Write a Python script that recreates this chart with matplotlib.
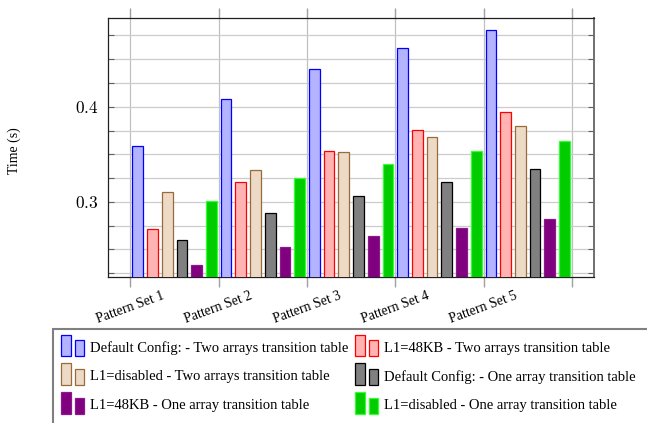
import numpy as np
import matplotlib.pyplot as plt
from matplotlib.patches import Rectangle
from matplotlib.ticker import MultipleLocator

plt.rcParams['font.family'] = ['Liberation Serif', 'DejaVu Serif']
plt.rcParams['mathtext.fontset'] = 'cm'

groups = ['Pattern Set 1', 'Pattern Set 2', 'Pattern Set 3', 'Pattern Set 4', 'Pattern Set 5']

labels = ['Default Config: - Two arrays transition table',
          'L1=48KB - Two arrays transition table',
          'L1=disabled - Two arrays transition table',
          'Default Config: - One array transition table',
          'L1=48KB - One array transition table',
          'L1=disabled - One array transition table']

default_two = [0.359, 0.408, 0.440, 0.462, 0.481]
l1_48_two   = [0.271, 0.321, 0.353, 0.376, 0.394]
l1_off_two  = [0.310, 0.334, 0.352, 0.368, 0.380]
default_one = [0.260, 0.288, 0.306, 0.321, 0.335]
l1_48_one   = [0.234, 0.253, 0.264, 0.273, 0.282]
l1_off_one  = [0.301, 0.325, 0.340, 0.354, 0.364]

series = [default_two, l1_48_two, l1_off_two, default_one, l1_48_one, l1_off_one]
faces = ['#b3b3ff', '#ffb3b3', '#ecd9c6', '#808080', '#800080', '#00cc00']
edges = ['#0000ff', '#ff0000', '#9a6a3a', '#000000', '#8a1a8a', '#33ff33']

W, H = 647, 423
fig = plt.figure(figsize=(W/100, H/100), dpi=100)
ax = fig.add_axes([108.3/W, 1-277/H, (594-108.3)/W, (277-18.3)/H])

x = np.arange(1, len(groups)+1)
bw = 0.121
step = 0.1665
for k, (vals, fc, ec) in enumerate(zip(series, faces, edges)):
    ax.bar(x + (k-2.5)*step, vals, width=bw, color=fc, edgecolor=ec,
           linewidth=0.9, zorder=3)

ax.set_xlim(0.25, 5.75)
ax.set_ylim(0.221, 0.493)

# x ticks sit between the groups
ax.set_xticks(np.arange(0.5, 6.0, 1.0))
ax.set_xticklabels(groups + [''], rotation=20, ha='center', fontsize=10)
ax.tick_params(axis='x', direction='out', length=7.5, width=1.0,
               color='#a0a0a0', top=True, pad=1.5)

ax.set_yticks([0.3, 0.4])
ax.set_yticklabels(['$0.3$', '$0.4$'], fontsize=12.5)
ax.yaxis.set_minor_locator(MultipleLocator(0.025))
ax.tick_params(axis='y', which='both', direction='in', right=True,
               length=4, width=0.8, color='#606060', pad=7)

ax.grid(axis='y', which='both', color='#cccccc', linewidth=0.9, zorder=0)
ax.grid(axis='x', which='major', color='#c0c0c0', linewidth=0.9, zorder=0)
ax.set_axisbelow(True)

for s in ['left', 'top', 'bottom']:
    ax.spines[s].set_color('#202020')
    ax.spines[s].set_linewidth(0.9)
ax.spines['right'].set_color('#707070')
ax.spines['right'].set_linewidth(1.4)

ax.set_ylabel('Time (s)', fontsize=10)
ax.yaxis.set_label_coords(-0.18, 0.49)

# legend box, drawn by hand in pixel positions (it runs off the page)
def fx(px):
    return px / W

def fy(py):
    return 1 - py / H

fig.add_artist(Rectangle((fx(53.3), fy(460)), fx(700) - fx(53.3), fy(328.7) - fy(460),
                         transform=fig.transFigure, fill=False,
                         edgecolor='#808080', linewidth=1.5))
col_x = [61.3, 355.3]
for i, (lab, fc, ec) in enumerate(zip(labels, faces, edges)):
    r, c = divmod(i, 2)
    x0 = col_x[c]
    yc = 345.7 + 28.7*r
    fig.add_artist(Rectangle((fx(x0), fy(yc+10.6)), 9.4/W, 21.6/H,
                             transform=fig.transFigure, facecolor=fc,
                             edgecolor=ec, linewidth=0.9))
    fig.add_artist(Rectangle((fx(x0+13.4), fy(yc+10.6)), 9.6/W, 16/H,
                             transform=fig.transFigure, facecolor=fc,
                             edgecolor=ec, linewidth=0.9))
    fig.text(fx(x0+28.7), fy(yc+2.5), lab, fontsize=10.5, va='center', ha='left')

fig.savefig('out.png', dpi=100)
